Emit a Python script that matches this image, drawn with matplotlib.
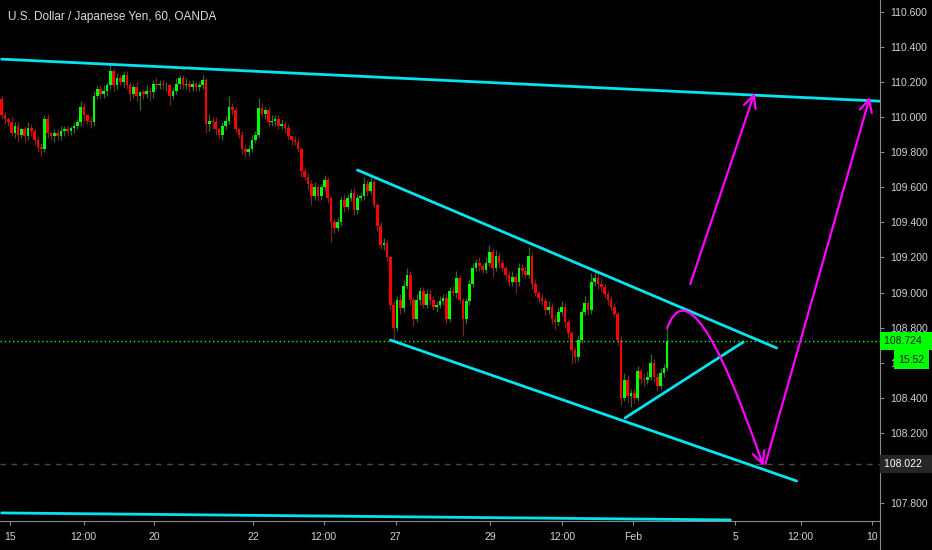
import numpy as np
import matplotlib
matplotlib.use('Agg')
import matplotlib.pyplot as plt
import matplotlib.transforms as mtransforms
from matplotlib.path import Path
from matplotlib.patches import FancyArrowPatch
from matplotlib.lines import Line2D
from matplotlib.ticker import FormatStrFormatter

plt.rcParams['font.family'] = ['Liberation Sans', 'DejaVu Sans']

title = "U.S. Dollar / Japanese Yen, 60, OANDA"

# hourly candles (open of each bar = previous close)
first_open = 110.10
closes = [
    110.01, 109.99, 109.97, 109.91, 109.95, 109.90, 109.93, 109.89, 109.94, 109.92,
    109.87, 109.83, 109.82, 109.99, 109.91, 109.89, 109.91, 109.89, 109.92, 109.93,
    109.92, 109.94, 109.95, 109.97, 110.06, 110.01, 109.98, 109.97, 110.12, 110.16,
    110.13, 110.15, 110.18, 110.26, 110.18, 110.22, 110.20, 110.24, 110.18, 110.13,
    110.17, 110.12, 110.14, 110.13, 110.15, 110.14, 110.19, 110.18, 110.19, 110.18,
    110.18, 110.12, 110.15, 110.19, 110.22, 110.18, 110.19, 110.17, 110.19, 110.17,
    110.18, 110.21, 109.96, 109.98, 109.97, 109.93, 109.90, 109.95, 109.98, 110.06,
    110.04, 109.93, 109.90, 109.82, 109.80, 109.82, 109.87, 109.90, 110.05, 110.02,
    110.04, 109.97, 109.98, 109.99, 109.95, 109.96, 109.94, 109.89, 109.87, 109.86,
    109.82, 109.69, 109.66, 109.62, 109.55, 109.60, 109.55, 109.60, 109.64, 109.54,
    109.40, 109.37, 109.40, 109.53, 109.49, 109.54, 109.57, 109.47, 109.54, 109.55,
    109.62, 109.58, 109.63, 109.50, 109.38, 109.27, 109.28, 109.20, 108.93, 108.80,
    108.96, 108.91, 109.04, 109.10, 108.96, 108.85, 108.96, 109.01, 108.93, 108.99,
    108.96, 108.92, 108.93, 108.95, 108.97, 108.85, 109.01, 109.00, 109.08, 108.96,
    108.85, 108.95, 109.05, 109.14, 109.17, 109.15, 109.13, 109.17, 109.23, 109.14,
    109.21, 109.17, 109.14, 109.10, 109.06, 109.09, 109.06, 109.14, 109.12, 109.10,
    109.21, 109.05, 109.00, 108.97, 108.95, 108.90, 108.92, 108.85, 108.83, 108.89,
    108.92, 108.83, 108.77, 108.67, 108.63, 108.73, 108.89, 108.94, 108.90, 109.06,
    109.08, 109.05, 109.03, 108.99, 108.96, 108.92, 108.88, 108.73, 108.40, 108.50,
    108.41, 108.43, 108.40, 108.55, 108.51, 108.50, 108.52, 108.60, 108.52, 108.47,
    108.54, 108.57, 108.724,
]
# wick lengths in pips
wick_up = [
    2, 2, 1, 3, 2, 2, 1, 2, 3, 2,
    1, 2, 2, 2, 3, 1, 2, 2, 3, 2,
    2, 1, 2, 2, 3, 2, 1, 2, 3, 2,
    2, 3, 2, 4, 2, 3, 2, 2, 2, 2,
    2, 3, 1, 2, 3, 2, 2, 3, 2, 2,
    2, 1, 2, 3, 2, 2, 3, 2, 2, 1,
    2, 3, 1, 4, 2, 3, 1, 2, 3, 6,
    2, 2, 1, 2, 2, 2, 3, 2, 6, 3,
    2, 2, 3, 2, 2, 3, 2, 2, 1, 2,
    2, 1, 2, 2, 2, 3, 2, 2, 3, 2,
    1, 2, 3, 2, 3, 2, 2, 3, 2, 2,
    4, 2, 3, 2, 1, 2, 3, 2, 1, 2,
    2, 3, 3, 4, 2, 1, 3, 2, 2, 3,
    3, 2, 2, 3, 2, 3, 2, 3, 4, 2,
    1, 2, 2, 3, 2, 3, 2, 3, 4, 2,
    3, 2, 2, 1, 2, 3, 2, 3, 2, 3,
    5, 2, 2, 1, 2, 2, 3, 2, 2, 3,
    3, 2, 2, 1, 2, 3, 2, 4, 2, 5,
    5, 4, 3, 2, 2, 2, 2, 1, 2, 4,
    3, 2, 2, 3, 2, 3, 3, 5, 2, 2,
    3, 2, 9,
]
wick_dn = [
    2, 3, 2, 2, 3, 4, 2, 3, 2, 3,
    3, 3, 4, 2, 3, 2, 3, 2, 2, 3,
    2, 2, 3, 2, 2, 3, 2, 3, 2, 2,
    3, 2, 3, 2, 3, 2, 2, 3, 2, 4,
    2, 3, 8, 3, 2, 5, 3, 2, 2, 2,
    3, 5, 2, 2, 3, 2, 2, 3, 2, 2,
    2, 2, 5, 4, 4, 3, 2, 3, 2, 2,
    3, 2, 2, 3, 3, 2, 2, 2, 2, 2,
    3, 2, 2, 3, 2, 2, 3, 2, 3, 2,
    2, 3, 2, 3, 5, 2, 3, 2, 2, 3,
    11, 3, 2, 2, 3, 2, 2, 3, 2, 2,
    2, 3, 2, 2, 3, 2, 3, 2, 3, 7,
    2, 3, 2, 2, 3, 4, 2, 3, 2, 2,
    3, 2, 3, 2, 2, 3, 2, 2, 3, 2,
    10, 3, 2, 2, 2, 3, 2, 2, 2, 5,
    2, 3, 2, 3, 2, 2, 6, 2, 3, 2,
    2, 3, 2, 3, 2, 3, 2, 3, 4, 2,
    2, 3, 3, 8, 3, 2, 2, 2, 3, 2,
    2, 3, 2, 2, 3, 2, 2, 3, 4, 2,
    4, 6, 3, 2, 3, 3, 2, 2, 3, 3,
    2, 2, 2,
]

last_price = 108.724
marked_price = 108.022
clock = "15:52"

tick_bars = [2.4, 24.9, 46.2, 76.4, 97.7, 119.6, 148.2, 170.1, 191.7, 222.7, 242.5, 264.2]
tick_labels = ["15", "12:00", "20", "22", "12:00", "27", "29", "12:00", "Feb", "5", "12:00", "10"]
# 108.000 sits under the 108.022 marker box, so it is left out
price_ticks = [107.8, 108.2, 108.4, 108.6, 108.8, 109.0, 109.2, 109.4, 109.6, 109.8, 110.0, 110.2, 110.4, 110.6]

# drawn lines (bar index, price)
cyan_lines = [
    [(0.0, 110.33), (267.1, 110.09)],
    [(0.0, 107.744), (221.2, 107.704)],
    [(108.0, 109.698), (235.2, 108.684)],
    [(118.0, 108.729), (241.3, 107.926)],
    [(189.2, 108.285), (225.1, 108.718)],
]
magenta_arrows = [
    [(209.0, 109.048), (228.5, 110.137)],
    [(231.8, 108.023), (263.5, 110.114)],
]
magenta_curve = [(202.0, 108.798), (209.6, 109.19), (231.2, 108.011)]

CYAN = '#00e5ee'
MAG = '#ff00ff'
GREEN = '#00ff00'
RED = '#ff0000'

c = np.array(closes)
o = np.array([first_open] + closes[:-1])
hi = np.maximum(o, c) + np.array(wick_up) * 0.01
lo = np.minimum(o, c) - np.array(wick_dn) * 0.01
x = np.arange(len(c))
rising = c >= o

fig = plt.figure(figsize=(9.32, 5.5), dpi=100, facecolor='black')
ax = fig.add_axes([0, 29 / 550, 880 / 932, 521 / 550])
ax.set_facecolor('black')

ax.vlines(x, lo, hi, colors=np.where(rising, '#2f6b2f', '#7a2424'), lw=0.9, zorder=2)
body = np.where(np.abs(c - o) < 0.004, 0.004, c - o)
ax.bar(x, body, bottom=o, width=0.8, color=np.where(rising, GREEN, RED), linewidth=0, zorder=3)

ax.axhline(last_price, color=GREEN, ls=(0, (1, 2)), lw=1, zorder=4)
ax.axhline(marked_price, color='#4a4a4a', ls=(0, (4, 4)), lw=1, zorder=1)

for (x0, y0), (x1, y1) in cyan_lines:
    ax.plot([x0, x1], [y0, y1], color=CYAN, lw=2, solid_capstyle='round', zorder=5)

for (x0, y0), (x1, y1) in magenta_arrows:
    ax.add_patch(FancyArrowPatch((x0, y0), (x1, y1), arrowstyle='->', mutation_scale=22,
                                 color=MAG, lw=1.6, zorder=6, shrinkA=0, shrinkB=0))
curve = Path(magenta_curve, [Path.MOVETO, Path.CURVE3, Path.CURVE3])
ax.add_patch(FancyArrowPatch(path=curve, arrowstyle='->', mutation_scale=22,
                             color=MAG, lw=1.6, zorder=6))

ax.set_xlim(-0.5, 266.6)
ax.set_ylim(107.698, 110.667)
ax.yaxis.tick_right()
ax.set_yticks(price_ticks)
ax.yaxis.set_major_formatter(FormatStrFormatter('%.3f'))
ax.set_xticks(tick_bars)
ax.set_xticklabels(tick_labels)
ax.tick_params(axis='both', colors='#8a8a8a', labelcolor='#d2d2d2', labelsize=7.5, length=3, width=0.8)
ax.tick_params(axis='x', pad=5)
ax.tick_params(axis='y', pad=4)
for s in ['top', 'left']:
    ax.spines[s].set_visible(False)
for s in ['right', 'bottom']:
    ax.spines[s].set_color('#8a8a8a')
fig.add_artist(Line2D([880 / 932, 880 / 932], [0, 29 / 550], color='#8a8a8a', lw=0.8))

trans = mtransforms.blended_transform_factory(ax.transAxes, ax.transData)
ax.text(1.0045, last_price, f"{last_price:.3f}   ", transform=trans, ha='left', va='center',
        fontsize=7.5, color='#1a1a1a', clip_on=False, zorder=10,
        bbox=dict(boxstyle='square,pad=0.4', fc=GREEN, ec='none'))
ax.text(1.021, 108.618, clock, transform=trans, ha='left', va='center',
        fontsize=7.5, color='#1a1a1a', clip_on=False, zorder=10,
        bbox=dict(boxstyle='square,pad=0.45', fc=GREEN, ec='none'))
ax.text(1.0045, marked_price, f"{marked_price:.3f}   ", transform=trans, ha='left', va='center',
        fontsize=7.5, color='#ffffff', clip_on=False, zorder=10,
        bbox=dict(boxstyle='square,pad=0.4', fc='#262626', ec='none'))

fig.text(8 / 932, 1 - 20 / 550, title, color='#dcdcdc', fontsize=8.5)

fig.savefig('out.png', dpi=100, facecolor='black')
